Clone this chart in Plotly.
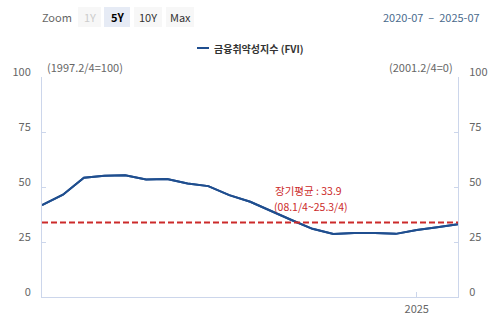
import plotly.graph_objects as go

# Financial Vulnerability Index (FVI), quarterly, 2020 Q3 - 2025 Q3
dates = [
    "2020-07-01", "2020-10-01", "2021-01-01", "2021-04-01", "2021-07-01",
    "2021-10-01", "2022-01-01", "2022-04-01", "2022-07-01", "2022-10-01",
    "2023-01-01", "2023-04-01", "2023-07-01", "2023-10-01", "2024-01-01",
    "2024-04-01", "2024-07-01", "2024-10-01", "2025-01-01", "2025-04-01",
    "2025-07-01",
]
fvi = [
    41.8, 46.5, 54.2, 55.1, 55.3,
    53.4, 53.6, 51.6, 50.4, 46.3,
    43.3, 39.0, 35.0, 31.0, 28.6,
    29.1, 29.1, 28.7, 30.5, 31.7,
    33.1,
]
long_term_avg = 33.9
x_range = ["2020-07-01", "2025-07-01"]
y_ticks = [0, 25, 50, 75, 100]
x_tickvals = ["2025-01-01"]
x_ticktext = ["2025"]
series_name = "금융취약성지수 (FVI)"
avg_label = f"장기평균 : {long_term_avg}"
avg_period = "(08.1/4~25.3/4)"
left_base = "(1997.2/4=100)"
right_base = "(2001.2/4=0)"
zoom_buttons = ["1Y", "5Y", "10Y", "Max"]
date_from, date_to = "2020-07", "2025-07"

W, H = 500, 333
L, R, T, B = 42, 42, 77, 36
FONT = "Noto Sans CJK KR"
GREY = "#666666"
AXIS = "#ccd6eb"
BLUE = "#1f4e8f"
RED = "#cc2a2a"


def px_x(px):
    return (px - L) / (W - L - R)


def px_y(py):
    return (H - B - py) / (H - T - B)


fig = go.Figure()
fig.add_trace(go.Scatter(
    x=dates, y=fvi, mode="lines", name=series_name,
    line=dict(color=BLUE, width=2), showlegend=False,
))
# same series on the right-hand scale so that axis is rendered
fig.add_trace(go.Scatter(
    x=dates, y=fvi, mode="lines", yaxis="y2", showlegend=False,
    line=dict(color=BLUE, width=2), hoverinfo="skip",
))

shapes = [
    # long-term average
    dict(type="line", xref="paper", yref="y", x0=0, x1=1,
         y0=long_term_avg, y1=long_term_avg,
         line=dict(color=RED, width=2, dash="6px,3px")),
    # legend marker
    dict(type="line", xref="paper", yref="paper",
         x0=px_x(197), x1=px_x(209), y0=px_y(48), y1=px_y(48),
         line=dict(color=BLUE, width=2)),
]

annotations = [
    dict(text=avg_label, xref="paper", yref="paper", x=px_x(308), y=px_y(190.5),
         showarrow=False, font=dict(family=FONT, size=10.5, color=RED),
         xanchor="center", yanchor="middle"),
    dict(text=avg_period, xref="paper", yref="paper", x=px_x(311), y=px_y(206),
         showarrow=False, font=dict(family=FONT, size=10.5, color=RED),
         xanchor="center", yanchor="middle"),
    dict(text=f"<b>{series_name}</b>", xref="paper", yref="paper", x=px_x(212), y=px_y(48),
         showarrow=False, font=dict(family=FONT, size=10, color="#333333"),
         xanchor="left", yanchor="middle"),
    dict(text=left_base, xref="paper", yref="paper", x=px_x(45), y=px_y(67),
         showarrow=False, font=dict(family=FONT, size=11, color=GREY),
         xanchor="left", yanchor="middle"),
    dict(text=right_base, xref="paper", yref="paper", x=px_x(455), y=px_y(67),
         showarrow=False, font=dict(family=FONT, size=11, color=GREY),
         xanchor="right", yanchor="middle"),
    dict(text="Zoom", xref="paper", yref="paper", x=px_x(40), y=px_y(17),
         showarrow=False, font=dict(family=FONT, size=11, color=GREY),
         xanchor="left", yanchor="middle"),
    dict(text=f"{date_from}  –  {date_to}", xref="paper", yref="paper",
         x=px_x(482), y=px_y(17), showarrow=False,
         font=dict(family=FONT, size=11, color="#4a6a8c"),
         xanchor="right", yanchor="middle"),
]

# range selector buttons
btn_boxes = [(78, 101), (104, 130), (134, 162), (166, 194)]
btn_fill = ["#f7f7f7", "#e6ebf5", "#f7f7f7", "#f7f7f7"]
btn_color = ["#cccccc", "#000000", "#333333", "#333333"]
for label, (x0, x1), fill, col in zip(zoom_buttons, btn_boxes, btn_fill, btn_color):
    shapes.append(dict(type="rect", xref="paper", yref="paper",
                       x0=px_x(x0), x1=px_x(x1), y0=px_y(27), y1=px_y(7),
                       fillcolor=fill, line=dict(width=0), layer="below"))
    annotations.append(dict(text=f"<b>{label}</b>" if label == "5Y" else label,
                            xref="paper", yref="paper",
                            x=px_x((x0 + x1) / 2), y=px_y(17), showarrow=False,
                            font=dict(family=FONT, size=11, color=col),
                            xanchor="center", yanchor="middle"))

yaxis_common = dict(
    range=[0, 100], tickvals=y_ticks, showgrid=False, zeroline=False,
    showline=True, linecolor=AXIS, linewidth=1,
    ticks="inside", ticklen=4, tickcolor=AXIS,
    tickfont=dict(family=FONT, size=11, color=GREY),
    ticklabelstandoff=8, ticklabelshift=-5, fixedrange=True,
)

fig.update_layout(
    width=W, height=H,
    margin=dict(l=L, r=R, t=T, b=B, pad=0),
    paper_bgcolor="white", plot_bgcolor="white",
    font=dict(family=FONT),
    xaxis=dict(type="date", range=x_range, tickvals=x_tickvals, ticktext=x_ticktext,
               showgrid=False, zeroline=False, showline=True, linecolor=AXIS,
               ticks="inside", ticklen=5, tickcolor=AXIS,
               tickfont=dict(family=FONT, size=11, color=GREY), ticklabelstandoff=2),
    yaxis=dict(side="left", **yaxis_common),
    yaxis2=dict(side="right", overlaying="y", **yaxis_common),
    shapes=shapes, annotations=annotations,
    showlegend=False,
)

fig.write_html("out.html")
